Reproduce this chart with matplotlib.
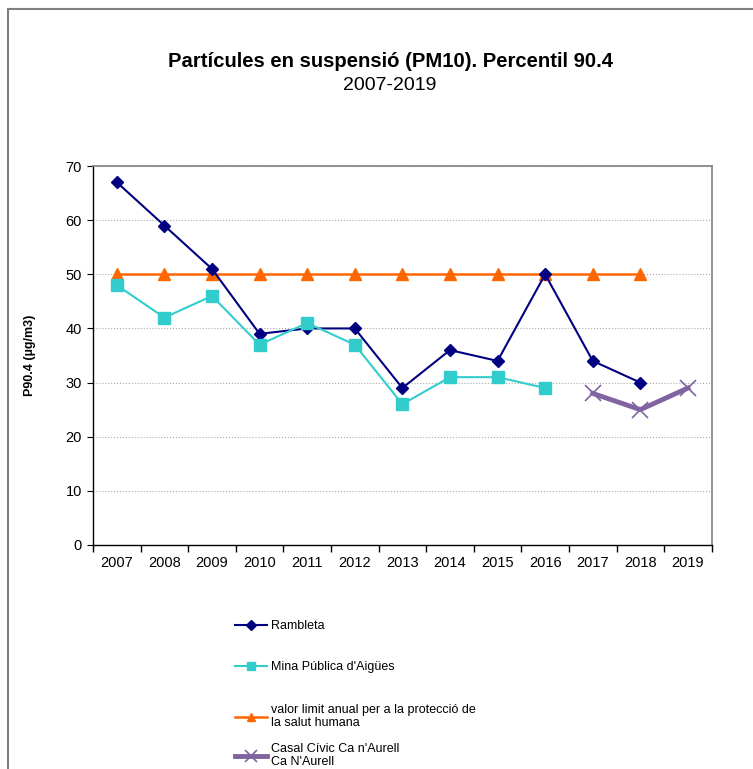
import matplotlib
matplotlib.use("Agg")
import matplotlib.pyplot as plt
from matplotlib.patches import Rectangle
import numpy as np

plt.rcParams['font.family'] = ['Liberation Sans', 'DejaVu Sans']

# dades llegides del gràfic
anys = ['2007', '2008', '2009', '2010', '2011', '2012', '2013',
        '2014', '2015', '2016', '2017', '2018', '2019']
rambleta = [67, 59, 51, 39, 40, 40, 29, 36, 34, 50, 34, 30, np.nan]
mina = [48, 42, 46, 37, 41, 37, 26, 31, 31, 29, np.nan, np.nan, np.nan]
limit = [50, 50, 50, 50, 50, 50, 50, 50, 50, 50, 50, 50, np.nan]
casal = [np.nan] * 10 + [28, 25, 29]

fig = plt.figure(figsize=(7.53, 7.69), dpi=100)
ax = fig.add_axes([0.1235, 0.2913, 0.8217, 0.4928])

x = np.arange(len(anys))
l1, = ax.plot(x, rambleta, color='#000080', marker='D', markersize=6, lw=1.5,
              label='Rambleta')
l2, = ax.plot(x, mina, color='#33CCCC', marker='s', markersize=8, lw=1.5,
              label="Mina Pública d'Aigües")
l3, = ax.plot(x, limit, color='#FF6600', marker='^', markersize=8, lw=1.8,
              label='valor limit anual per a la protecció de\nla salut humana')
l4, = ax.plot(x, casal, color='#8064A2', marker='x', markersize=11, mew=1.2,
              lw=3.5, label="Casal Cívic Ca n'Aurell\nCa N'Aurell")
# la línia límit per sota de Rambleta
l3.set_zorder(1.9)

ax.set_xlim(-0.5, len(anys) - 0.5)
ax.set_ylim(0, 70)
ax.set_yticks(range(0, 71, 10))
ax.set_xticks(x)
ax.set_xticklabels(anys)
ax.set_xticks(np.arange(-0.5, len(anys)), minor=True)
ax.tick_params(axis='x', which='major', length=0, pad=8, labelsize=10.5)
ax.tick_params(axis='x', which='minor', length=5, direction='out', width=1)
ax.tick_params(axis='y', length=4, direction='out', labelsize=10.5, pad=4)
ax.grid(axis='y', linestyle=':', color='#aaaaaa', lw=0.8)
ax.set_axisbelow(True)

for s in ['top', 'right']:
    ax.spines[s].set_color('#808080')
    ax.spines[s].set_linewidth(1.2)
for s in ['left', 'bottom']:
    ax.spines[s].set_color('black')
    ax.spines[s].set_linewidth(1)

ax.set_ylabel('P90.4 (µg/m3)', fontsize=9, fontweight='bold', labelpad=21)

fig.text(0.518, 0.920, 'Partícules en suspensió (PM10). Percentil 90.4',
         ha='center', va='center', fontsize=14.6, fontweight='bold')
fig.text(0.518, 0.889, '2007-2019', ha='center', va='center', fontsize=14)

# llegenda: una entrada per fila, com a l'original
posicions_y = [0.1860, 0.1327, 0.0680, 0.0175]
for h, yy in zip([l1, l2, l3, l4], posicions_y):
    leg = fig.legend(handles=[h], loc='center left',
                     bbox_to_anchor=(0.312, yy), frameon=False, fontsize=9,
                     handlelength=2.55, handletextpad=0.3, markerscale=0.8,
                     borderaxespad=0, borderpad=0)
    for t in leg.get_texts():
        t.set_linespacing(1.15)

# marc exterior
fig.patches.append(Rectangle((0.0106, -0.1), 1.2, 0.9883 + 0.1,
                             transform=fig.transFigure, fill=False,
                             edgecolor='#808080', lw=1.5))

fig.savefig('out.png', dpi=100)
